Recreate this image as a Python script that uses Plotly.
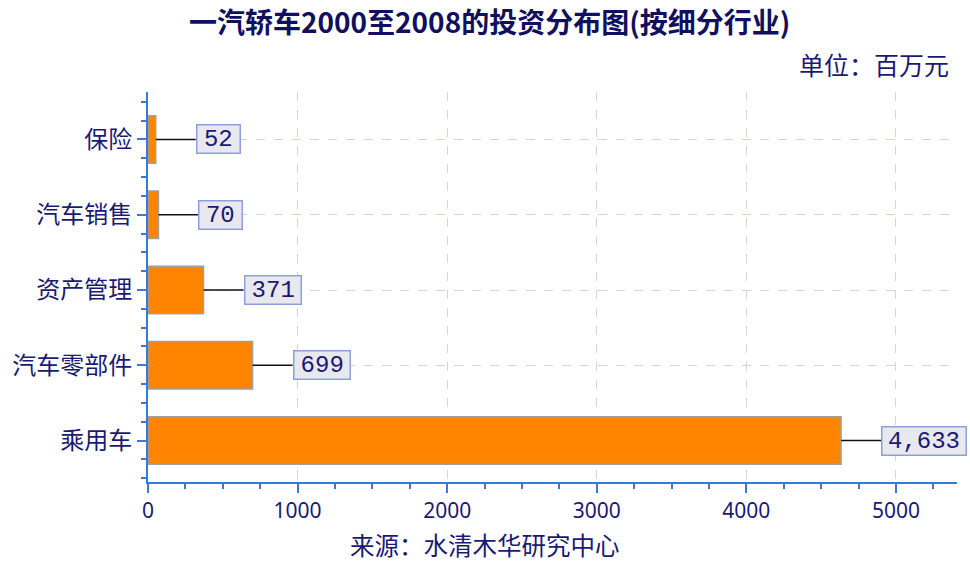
import plotly.graph_objects as go

categories = ["乘用车", "汽车零部件", "资产管理", "汽车销售", "保险"]
values = [4633, 699, 371, 70, 52]
x_ticks = [0, 1000, 2000, 3000, 4000, 5000]

title_text = "一汽轿车2000至2008的投资分布图(按细分行业)"
unit_text = "单位：百万元"
source_text = "来源：水清木华研究中心"

NAVY = "#1a1a72"
AXIS = "#3c78d8"
CJK = "Noto Sans CJK SC"

ypos = list(range(len(categories)))

fig = go.Figure()
fig.add_trace(go.Bar(
    x=values, y=ypos, orientation="h", width=0.63,
    marker=dict(color="#ff8400", line=dict(color="#a0a0a0", width=1.5)),
    hoverinfo="skip",
))

shapes = []
annotations = []
LEAD = 40
CHAR_W = 13.8
for v, y in zip(values, ypos):
    label = f"{v:,}"
    w = CHAR_W * len(label) + 17
    shapes.append(dict(type="line", xref="x", yref="y", xsizemode="pixel", xanchor=v,
                       x0=0, x1=LEAD, y0=y, y1=y, line=dict(color="#111111", width=1.5),
                       layer="above"))
    annotations.append(dict(x=v, y=y, xref="x", yref="y", text=label, showarrow=False,
                            xanchor="left", yanchor="middle", xshift=LEAD,
                            width=w - 3, height=27, borderpad=0, borderwidth=1.5,
                            bgcolor="#e8e8ee", bordercolor="#8e9fe0", align="center",
                            font=dict(family="Liberation Mono", size=24, color=NAVY)))

annotations.append(dict(x=489, y=21, xref="paper", yref="paper", text=f"<b>{title_text}</b>",
                        showarrow=False, font=dict(family=CJK, size=28, color="#10105e")))
annotations.append(dict(x=951, y=64, xref="paper", yref="paper", text=unit_text,
                        showarrow=False, xanchor="right",
                        font=dict(family=CJK, size=25, color=NAVY)))
annotations.append(dict(x=485, y=544, xref="paper", yref="paper", text=source_text,
                        showarrow=False, font=dict(family=CJK, size=24.5, color=NAVY)))

# convert pixel positions for paper annotations
W, H = 970, 561
L, R, T, B = 148, 13, 92, 79
pw, ph = W - L - R, H - T - B
for a in annotations:
    if a["xref"] == "paper":
        a["x"] = (a["x"] - L) / pw
        a["y"] = 1 - (a["y"] - T) / ph
        a["yanchor"] = "middle"
        if "xanchor" not in a:
            a["xanchor"] = "center"

fig.update_layout(
    width=W, height=H,
    margin=dict(l=L, r=R, t=T, b=B, pad=0, autoexpand=False),
    paper_bgcolor="white", plot_bgcolor="white",
    showlegend=False,
    shapes=shapes, annotations=annotations,
    xaxis=dict(
        automargin=False,
        range=[0, 5408], tickvals=x_ticks, ticktext=[str(t) for t in x_ticks],
        showgrid=True, gridcolor="#d8d4ce", griddash="dash", gridwidth=1,
        zeroline=False, showline=True, linecolor=AXIS, linewidth=2,
        ticks="outside", ticklen=9, tickwidth=1.5, tickcolor=AXIS,
        tickfont=dict(family="Noto Sans", size=21, color=NAVY),
        minor=dict(tick0=0, dtick=250, ticklen=5, tickwidth=1.5, tickcolor=AXIS,
                   ticks="outside", showgrid=False),
    ),
    yaxis=dict(
        automargin=False,
        range=[-0.55, 4.63], tickmode="array", tickvals=ypos, ticktext=categories,
        showgrid=True, gridcolor="#d8d4ce", griddash="dash", gridwidth=1,
        zeroline=False, showline=True, linecolor=AXIS, linewidth=2,
        ticks="outside", ticklen=9, tickwidth=1.5, tickcolor=AXIS,
        tickfont=dict(family=CJK, size=24, color=NAVY),
        minor=dict(tick0=0, dtick=0.25, ticklen=5, tickwidth=1.5, tickcolor=AXIS,
                   ticks="outside", showgrid=False),
    ),
)

fig.write_html("out.html", config={"displayModeBar": False},
               post_script="document.body.style.margin='0';")
